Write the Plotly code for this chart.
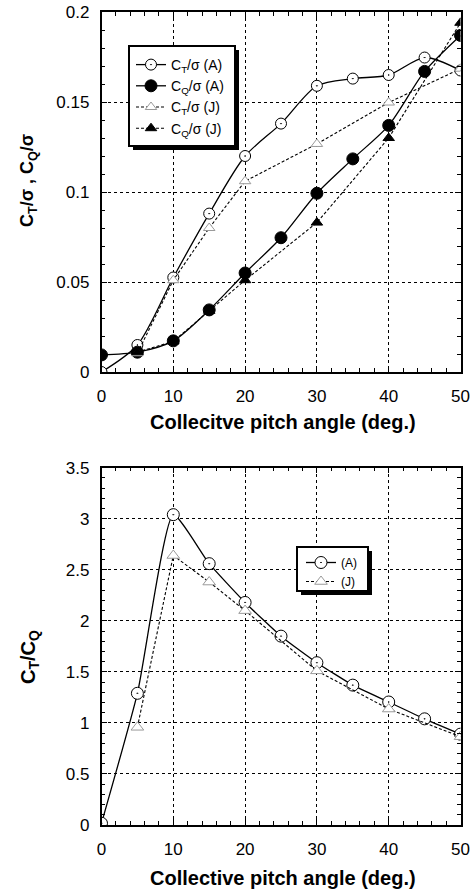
import plotly.graph_objects as go

# Collective pitch angles (deg.)
pitch_a = [0, 5, 10, 15, 20, 25, 30, 35, 40, 45, 50]
pitch_j = [5, 10, 15, 20, 30, 40, 50]

# Thrust and torque coefficients over solidity
ct_sigma_a = [0.0, 0.015, 0.0525, 0.088, 0.120, 0.138, 0.159, 0.163, 0.165, 0.1747, 0.1675]
cq_sigma_a = [0.0095, 0.011, 0.0173, 0.0345, 0.055, 0.0746, 0.0993, 0.1184, 0.137, 0.167, 0.187]
ct_sigma_j = [0.0104, 0.051, 0.080, 0.106, 0.1267, 0.1497, 0.1685]
cq_sigma_j = [0.011, 0.017, 0.034, 0.051, 0.083, 0.130, 0.194]

# Thrust-to-torque ratio
ct_cq_a = [0.017, 1.29, 3.04, 2.56, 2.18, 1.85, 1.59, 1.37, 1.205, 1.04, 0.89]
ct_cq_j = [0.957, 2.64, 2.38, 2.10, 1.51, 1.136, 0.865]

W, H = 473, 893
FONT = "Liberation Sans, Arial, sans-serif"

def px_x(p):
    return p / W

def px_y(p):
    return 1 - p / H

X_DOM = [px_x(101.5), px_x(460.5)]
TOP_DOM = [px_y(372), px_y(12)]
BOT_DOM = [px_y(825), px_y(467.7)]

fig = go.Figure()

open_circle = dict(symbol="circle-dot", size=11, color="white", line=dict(color="black", width=1))
full_circle = dict(symbol="circle", size=12, color="black", line=dict(color="black", width=1))
open_tri = dict(symbol="triangle-up", size=10, color="white", line=dict(color="#9a9a9a", width=1))
full_tri = dict(symbol="triangle-up", size=10, color="black", line=dict(color="black", width=1))
solid = dict(color="black", width=1.3, shape="spline", smoothing=0.8)
solid_sharp = dict(color="black", width=1.3, shape="spline", smoothing=0.5)
dotted = dict(color="black", width=1.1, dash="3px,2px")

# Upper panel
upper = [
    (pitch_a, ct_sigma_a, "C<sub>T</sub>/σ (A)", solid, open_circle),
    (pitch_a, cq_sigma_a, "C<sub>Q</sub>/σ (A)", solid, full_circle),
    (pitch_j, ct_sigma_j, "C<sub>T</sub>/σ (J)", dotted, open_tri),
    (pitch_j, cq_sigma_j, "C<sub>Q</sub>/σ (J)", dotted, full_tri),
]
for i, (xs, ys, name, ln, mk) in enumerate(upper):
    fig.add_trace(go.Scatter(x=xs, y=ys, mode="lines+markers", name=name, line=ln, marker=mk,
                             xaxis="x", yaxis="y", legend="legend", legendgroup=f"u{i}"))

# Lower panel
lower = [
    (pitch_a, ct_cq_a, "(A)", solid_sharp, dict(open_circle, size=12)),
    (pitch_j, ct_cq_j, "(J)", dotted, dict(open_tri, size=11)),
]
for i, (xs, ys, name, ln, mk) in enumerate(lower):
    fig.add_trace(go.Scatter(x=xs, y=ys, mode="lines+markers", name=name, line=ln, marker=mk,
                             xaxis="x2", yaxis="y2", legend="legend2", legendgroup=f"l{i}"))

def axis_style(size, standoff, **kw):
    d = dict(
        showline=True, linecolor="black", linewidth=1.5, mirror="allticks",
        ticks="inside", ticklen=6, tickwidth=1, tickcolor="black",
        showgrid=True, gridcolor="black", griddash="dot", gridwidth=1,
        zeroline=False, automargin=False,
        tickfont=dict(family=FONT, size=size, color="black"),
        ticklabelstandoff=standoff,
    )
    d.update(kw)
    return d

x_minor = dict(dtick=2, ticks="inside", ticklen=4, tickcolor="black", showgrid=False)

fig.update_layout(
    width=W, height=H, margin=dict(l=0, r=0, t=0, b=0, autoexpand=False),
    paper_bgcolor="white", plot_bgcolor="white",
    font=dict(family=FONT, color="black"),
    xaxis=axis_style(17, 8, domain=X_DOM, range=[0, 50], dtick=10, anchor="y", minor=x_minor),
    yaxis=axis_style(17, 7, domain=TOP_DOM, range=[0, 0.2], dtick=0.05, anchor="x",
                     minor=dict(dtick=0.01, ticks="inside", ticklen=4, tickcolor="black", showgrid=False)),
    xaxis2=axis_style(17, 8, domain=X_DOM, range=[0, 50], dtick=10, anchor="y2", minor=x_minor),
    yaxis2=axis_style(17, 7, domain=BOT_DOM, range=[0, 3.5], dtick=0.5, anchor="x2",
                      minor=dict(dtick=0.1, ticks="inside", ticklen=4, tickcolor="black", showgrid=False)),
    legend=dict(x=px_x(131), y=px_y(49), xanchor="left", yanchor="top",
                bgcolor="rgba(0,0,0,0)", borderwidth=0, tracegroupgap=0,
                font=dict(family=FONT, size=14, color="black"), itemwidth=30),
    legend2=dict(x=px_x(301), y=px_y(548), xanchor="left", yanchor="top",
                 bgcolor="rgba(0,0,0,0)", borderwidth=0, tracegroupgap=0,
                 font=dict(family=FONT, size=12, color="black"), itemwidth=30),
    showlegend=True,
)

# Legend frames with drop shadows
def legend_frame(x0, y0, x1, y1, off=4):
    fig.add_shape(type="rect", xref="paper", yref="paper",
                  x0=px_x(x0 + off), x1=px_x(x1 + off), y0=px_y(y1 + off), y1=px_y(y0 + off),
                  fillcolor="black", line=dict(width=0), layer="above")
    fig.add_shape(type="rect", xref="paper", yref="paper",
                  x0=px_x(x0), x1=px_x(x1), y0=px_y(y1), y1=px_y(y0),
                  fillcolor="white", line=dict(color="black", width=2), layer="above")

legend_frame(129, 46, 235, 146)
legend_frame(297, 547, 368, 591)

# Axis titles
title_font = dict(family=FONT, size=20, color="black")
fig.add_annotation(text="<b>Collecitve pitch angle (deg.)</b>", x=px_x(283), y=px_y(422),
                   xref="paper", yref="paper", xanchor="center", yanchor="middle",
                   showarrow=False, font=title_font)
fig.add_annotation(text="<b>Collective pitch angle (deg.)</b>", x=px_x(283), y=px_y(878),
                   xref="paper", yref="paper", xanchor="center", yanchor="middle",
                   showarrow=False, font=title_font)
fig.add_annotation(text="<b>C<sub>T</sub>/σ , C<sub>Q</sub>/σ</b>", x=px_x(29), y=px_y(181),
                   xref="paper", yref="paper", xanchor="center", yanchor="middle",
                   showarrow=False, textangle=-90, font=dict(title_font, size=18))
fig.add_annotation(text="<b>C<sub>T</sub>/C<sub>Q</sub></b>", x=px_x(29), y=px_y(657),
                   xref="paper", yref="paper", xanchor="center", yanchor="middle",
                   showarrow=False, textangle=-90, font=title_font)

fig.write_html("out.html")
